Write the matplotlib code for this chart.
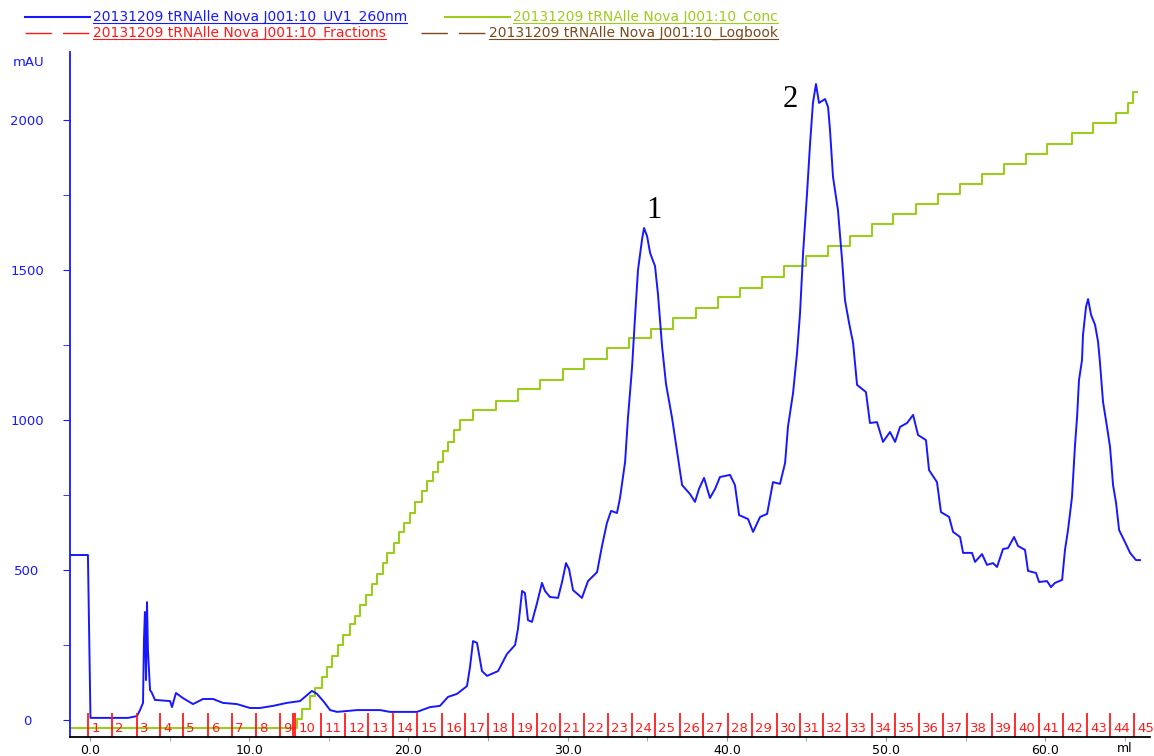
import matplotlib
matplotlib.use("Agg")
import matplotlib.pyplot as plt
from matplotlib.lines import Line2D
from matplotlib.ticker import MultipleLocator

W, H = 1154, 756

# UV 260nm trace (ml, mAU)
uv_ml = [-1.26, -0.13, -0.03, 0.03, 2.39, 2.95, 3.14, 3.33, 3.39, 3.45, 3.52, 3.58, 3.64,
         3.77, 3.89, 4.08, 5.03, 5.15, 5.40, 5.84, 6.47, 7.10, 7.73, 8.35, 9.23, 10.05,
         10.68, 11.49, 12.37, 13.19, 13.57, 13.94, 14.26, 14.70, 15.08, 15.52, 16.77,
         18.22, 18.84, 20.54, 21.36, 21.98, 22.49, 23.05, 23.68, 23.87, 24.06, 24.31,
         24.62, 24.94, 25.63, 26.19, 26.70, 26.88, 27.14, 27.32, 27.51, 27.76, 28.08,
         28.39, 28.58, 28.89, 29.40, 29.65, 29.90, 30.09, 30.34, 30.90, 31.28, 31.85,
         32.16, 32.47, 32.73, 33.10, 33.29, 33.61, 33.79, 34.05, 34.23, 34.42, 34.67,
         34.80, 34.99, 35.18, 35.49, 35.68, 35.93, 36.18, 36.56, 36.87, 37.19, 37.69,
         38.00, 38.25, 38.57, 38.94, 39.26, 39.57, 40.20, 40.51, 40.77, 41.33, 41.65,
         42.09, 42.53, 42.90, 43.34, 43.66, 43.84, 44.16, 44.41, 44.60, 44.79, 45.04,
         45.23, 45.41, 45.60, 45.79, 46.17, 46.36, 46.48, 46.67, 46.98, 47.24, 47.42,
         47.68, 47.93, 48.18, 48.74, 48.99, 49.43, 49.81, 50.25, 50.57, 50.88, 51.32,
         51.70, 52.01, 52.51, 52.70, 53.20, 53.45, 53.96, 54.21, 54.65, 54.84, 55.40,
         55.59, 56.03, 56.34, 56.72, 56.97, 57.35, 57.66, 58.04, 58.29, 58.73, 58.92,
         59.42, 59.61, 60.11, 60.36, 60.61, 61.06, 61.24, 61.43, 61.68, 61.87, 62.00,
         62.12, 62.31, 62.37, 62.56, 62.69, 62.88, 63.13, 63.32, 63.44, 63.63, 63.88,
         64.07, 64.26, 64.45, 64.64, 65.01, 65.33, 65.70, 65.95]
uv_mau = [550, 550, 217, 7, 7, 13, 33, 57, 267, 360, 133, 393, 233,
          100, 90, 67, 63, 43, 90, 73, 53, 70, 70, 57, 53, 40,
          40, 47, 57, 63, 80, 97, 87, 60, 33, 27, 33,
          33, 27, 27, 43, 47, 77, 87, 113, 177, 263, 257,
          163, 147, 163, 220, 250, 303, 430, 423, 333, 327, 390,
          457, 430, 410, 407, 460, 523, 503, 433, 407, 463, 493,
          580, 657, 697, 690, 740, 860, 1007, 1177, 1340, 1500, 1600,
          1640, 1613, 1557, 1513, 1417, 1247, 1120, 1007, 897, 783, 753,
          727, 770, 807, 740, 770, 810, 817, 783, 683, 670, 627,
          677, 687, 793, 787, 857, 977, 1090, 1223, 1357, 1557, 1757,
          1923, 2057, 2120, 2057, 2070, 2043, 1967, 1810, 1700, 1533, 1400,
          1323, 1257, 1117, 1093, 990, 993, 927, 960, 927, 977, 990,
          1017, 950, 933, 833, 793, 693, 677, 627, 610, 557, 557,
          527, 553, 517, 523, 510, 570, 573, 610, 580, 567, 497,
          490, 460, 463, 443, 457, 467, 567, 633, 743, 917, 1010,
          1133, 1200, 1283, 1377, 1403, 1350, 1317, 1260, 1190, 1060, 977,
          910, 783, 723, 633, 593, 557, 533, 533]

# Conc (%B) step changes
conc_ml = [-1.26, 13.00, 13.32, 13.82, 14.13, 14.57, 14.89, 15.20, 15.58, 15.89, 16.33,
           16.65, 16.96, 17.34, 17.71, 18.03, 18.40, 18.66, 19.10, 19.41, 19.72, 20.10,
           20.41, 20.85, 21.17, 21.55, 21.86, 22.17, 22.49, 22.86, 23.24, 24.06, 25.50,
           26.88, 28.27, 29.71, 31.03, 32.47, 33.86, 35.24, 36.62, 38.07, 39.45, 40.83,
           42.21, 43.59, 44.97, 46.36, 47.74, 49.12, 50.44, 51.88, 53.27, 54.65, 56.03,
           57.41, 58.79, 60.11, 61.68, 62.99, 64.45, 65.20, 65.51, 65.77]
conc_pct = [0, 1.4, 3.0, 5.0, 6.3, 8.0, 9.6, 11.3, 13.1, 14.6, 16.4,
            17.6, 19.3, 20.9, 22.6, 24.2, 25.9, 27.5, 29.1, 30.8, 32.2, 33.8,
            35.5, 37.3, 38.8, 40.3, 41.8, 43.6, 45.0, 46.9, 48.4, 50.0, 51.4,
            53.3, 54.7, 56.4, 58.0, 59.7, 61.3, 62.7, 64.5, 66.0, 67.8, 69.2,
            70.9, 72.6, 74.2, 75.8, 77.4, 79.2, 80.8, 82.4, 84.0, 85.5, 87.1,
            88.7, 90.3, 91.8, 93.6, 95.1, 96.7, 98.3, 100.0, 100.0]

# fraction starts (ml) and labels
frac_ml = [-0.13, 1.38, 2.95, 4.40, 5.84, 7.41, 8.92, 10.43, 11.93, 12.88, 14.51,
           16.02, 17.46, 19.03, 20.54, 22.11, 23.55, 25.00, 26.57, 28.08, 29.52,
           31.03, 32.54, 34.05, 35.49, 37.06, 38.51, 40.08, 41.58, 43.15, 44.60,
           46.04, 47.55, 49.12, 50.57, 52.07, 53.58, 55.09, 56.66, 58.10, 59.61,
           61.12, 62.63, 64.07, 65.58]
frac_labels = [str(i) for i in range(1, 46)]
waste_ml = [12.75]

x_ticks = [0, 10, 20, 30, 40, 50, 60]
y_ticks = [0, 500, 1000, 1500, 2000]

peak_names = ['1', '2']
peak_ml = [35.43, 43.97]
peak_mau = [1700, 2070]

name = '20131209 tRNAlle Nova J001:10_'
BLUE = '#1818ff'
GREEN = '#9ccc1c'
RED = '#ff1a1a'
BROWN = '#7a4a1e'

fig = plt.figure(figsize=(W / 100, H / 100), dpi=100)
ax = fig.add_axes([70 / W, 19 / H, 1080 / W, 685 / H])
ax2 = ax.twinx()

ax.set_xlim(-1.256, 66.58)
ax.set_ylim(-56.7, 2226.7)
ax2.set_ylim(-1.415, 106.3)
ax2.axis('off')
ax.set_zorder(ax2.get_zorder() + 1)
ax.patch.set_visible(False)

ax2.plot(conc_ml, conc_pct, drawstyle='steps-post', color=GREEN, lw=1.5)
ax.plot(uv_ml, uv_mau, color=BLUE, lw=1.4)

# fraction marks
xt = ax.get_xaxis_transform()
ax.vlines(frac_ml + waste_ml, 0, 24 / 685, transform=xt, color=RED, lw=1.3)
for f, lab in zip(frac_ml, frac_labels):
    ax.text(f + 0.2, 9 / 685, lab, transform=xt, color=RED, fontsize=9.5,
            ha='left', va='center')

for s in ['top', 'right']:
    ax.spines[s].set_visible(False)
ax.spines['left'].set_color(BLUE)
ax.spines['left'].set_linewidth(1.3)
ax.spines['bottom'].set_color('black')
ax.spines['bottom'].set_linewidth(1.3)

ax.set_xticks(x_ticks)
ax.set_xticklabels(['%.1f' % v for v in x_ticks])
ax.xaxis.set_minor_locator(MultipleLocator(5))
ax.tick_params(axis='x', which='both', length=3, color='#999999', labelsize=9, pad=2)

ax.set_yticks(y_ticks)
ax.set_yticklabels([str(v) for v in y_ticks])
ax.yaxis.set_minor_locator(MultipleLocator(250))
ax.tick_params(axis='y', which='both', length=5, color=BLUE, labelcolor=BLUE,
               labelsize=9.5, pad=26)
for lab in ax.get_yticklabels():
    lab.set_ha('center')

ax.text(65.0, -11 / 685, 'ml', transform=xt, ha='center', va='center', fontsize=9)
fig.text(29 / W, 1 - 63 / H, 'mAU', color=BLUE, fontsize=9.5, ha='center', va='center')

for n, xm, ym in zip(peak_names, peak_ml, peak_mau):
    ax.text(xm, ym, n, fontsize=22, family='Liberation Serif', ha='center', va='center')


# legend drawn at the top
def fx(x):
    return x / W


def fy(y):
    return 1 - y / H


entries = [
    (name + 'UV1_260nm', BLUE, '-', 93, 17, 'left'),
    (name + 'Conc', GREEN, '-', 778, 17, 'right'),
    (name + 'Fractions', RED, '--', 93, 33, 'left'),
    (name + 'Logbook', BROWN, '--', 778, 33, 'right'),
]
texts = []
for label, col, ls, x, y, ha in entries:
    t = fig.text(fx(x), fy(y), label, color=col, fontsize=10, ha=ha, va='center')
    texts.append(t)

fig.canvas.draw()
r = fig.canvas.get_renderer()
for t, (label, col, ls, x, y, ha) in zip(texts, entries):
    bb = t.get_window_extent(r)
    x0, x1 = bb.x0, bb.x1
    uy = bb.y0 + 1
    fig.add_artist(Line2D([x0 / W, x1 / W], [uy / H, uy / H], color=col, lw=0.8,
                          transform=fig.transFigure))
    lx1 = x0 - 3
    lx0 = lx1 - 65
    ln = Line2D([lx0 / W, lx1 / W], [fy(y), fy(y)], color=col, lw=1.5,
                transform=fig.transFigure)
    if ls == '--':
        ln.set_dashes((19, 8))
        ln.set_linewidth(1.0)
    fig.add_artist(ln)

fig.savefig('out.png', dpi=100)
